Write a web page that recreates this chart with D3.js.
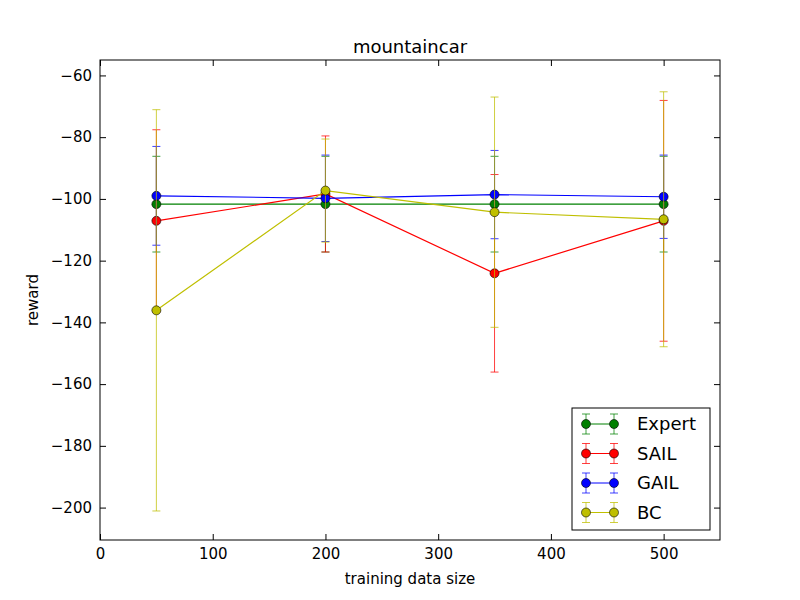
<!DOCTYPE html>
<html><head><meta charset="utf-8">
<script src="https://cdn.jsdelivr.net/npm/d3@7"></script>
<style>body{margin:0;background:#fff}text{font-family:"DejaVu Sans",sans-serif}</style>
</head><body><svg id="c" width="800" height="600"></svg>
<script>
const xs = [50, 200, 350, 500];
const seriesNames = ["Expert", "SAIL", "GAIL", "BC"];
const colors = ["#008000", "#ff0000", "#0000ff", "#bfbf00"];
const expertMean = [-101.7, -101.7, -101.7, -101.7];
const expertErr = [15.5, 15.5, 15.5, 15.5];
const sailMean = [-107.1, -98.4, -124.1, -107.1];
const sailErr = [29.5, 18.8, 32, 39];
const gailMean = [-99.0, -99.8, -98.6, -99.3];
const gailErr = [16, 14, 14.3, 13.5];
const bcMean = [-136.1, -97.3, -104.3, -106.6];
const bcErr = [65, 16.7, 37.3, 41.3];
const xTicks = [0, 100, 200, 300, 400, 500];
const yTicks = [-200, -180, -160, -140, -120, -100, -80, -60];

const means = [expertMean, sailMean, gailMean, bcMean];
const errs = [expertErr, sailErr, gailErr, bcErr];
const svg = d3.select("#c");
const L = 100, R = 720, T = 60, B = 540;
const x = d3.scaleLinear().domain([0, 550]).range([L, R]);
const y = d3.scaleLinear().domain([-210.5, -55]).range([B, T]);

svg.append("g").attr("transform", `translate(0,${B})`)
  .call(d3.axisBottom(x).tickValues(xTicks).tickSize(-6).tickPadding(8).tickFormat(d3.format("d")));
svg.append("g").attr("transform", `translate(0,${T})`)
  .call(d3.axisTop(x).tickValues(xTicks).tickSize(-6).tickFormat(""));
svg.append("g").attr("transform", `translate(${L},0)`)
  .call(d3.axisLeft(y).tickValues(yTicks).tickSize(-6).tickPadding(8).tickFormat(d => d < 0 ? "\u2212" + Math.abs(d) : d));
svg.append("g").attr("transform", `translate(${R},0)`)
  .call(d3.axisRight(y).tickValues(yTicks).tickSize(-6).tickFormat(""));
svg.selectAll(".domain").remove();
svg.selectAll(".tick text").attr("font-size", 15).attr("fill", "#000");
svg.append("rect").attr("x", L).attr("y", T).attr("width", R - L).attr("height", B - T)
  .attr("fill", "none").attr("stroke", "#000");

const line = d3.line().x(d => x(d[0])).y(d => y(d[1]));
seriesNames.forEach((n, i) => {
  const g = svg.append("g");
  const pts = xs.map((v, j) => [v, means[i][j], errs[i][j]]);
  pts.forEach(p => {
    g.append("line").attr("x1", x(p[0])).attr("x2", x(p[0]))
      .attr("y1", y(p[1] - p[2])).attr("y2", y(p[1] + p[2]))
      .attr("stroke", colors[i]).attr("stroke-opacity", 0.75);
    [p[1] - p[2], p[1] + p[2]].forEach(v => g.append("line")
      .attr("x1", x(p[0]) - 4).attr("x2", x(p[0]) + 4).attr("y1", y(v)).attr("y2", y(v))
      .attr("stroke", colors[i]).attr("stroke-opacity", 0.75));
  });
  g.append("path").datum(pts).attr("d", line).attr("fill", "none").attr("stroke", colors[i]).attr("stroke-width", 1.2);
  g.selectAll("circle").data(pts).join("circle").attr("cx", d => x(d[0])).attr("cy", d => y(d[1]))
    .attr("r", 4.5).attr("fill", colors[i]).attr("stroke", "#000").attr("stroke-width", 0.6);
});

svg.append("text").attr("x", (L + R) / 2).attr("y", 53).attr("text-anchor", "middle").attr("font-size", 18).text("mountaincar");
svg.append("text").attr("x", (L + R) / 2).attr("y", 584).attr("text-anchor", "middle").attr("font-size", 15).text("training data size");
svg.append("text").attr("transform", `translate(38,${(T + B) / 2}) rotate(-90)`).attr("text-anchor", "middle").attr("font-size", 15).text("reward");

const lg = svg.append("g");
lg.append("rect").attr("x", 572).attr("y", 408).attr("width", 138).attr("height", 122).attr("fill", "#fff").attr("stroke", "#000");
seriesNames.forEach((n, i) => {
  const yy = 424 + i * 29.5;
  lg.append("line").attr("x1", 586).attr("x2", 614).attr("y1", yy).attr("y2", yy).attr("stroke", colors[i]);
  [586, 614].forEach(cx => {
    lg.append("line").attr("x1", cx).attr("x2", cx).attr("y1", yy - 10).attr("y2", yy + 10).attr("stroke", colors[i]).attr("stroke-opacity", 0.75);
    [yy - 10, yy + 10].forEach(v => lg.append("line").attr("x1", cx - 4).attr("x2", cx + 4).attr("y1", v).attr("y2", v).attr("stroke", colors[i]).attr("stroke-opacity", 0.75));
    lg.append("circle").attr("cx", cx).attr("cy", yy).attr("r", 4.5).attr("fill", colors[i]).attr("stroke", "#000").attr("stroke-width", 0.6);
  });
  lg.append("text").attr("x", 637).attr("y", yy + 6).attr("font-size", 18).text(n);
});
</script></body></html>
